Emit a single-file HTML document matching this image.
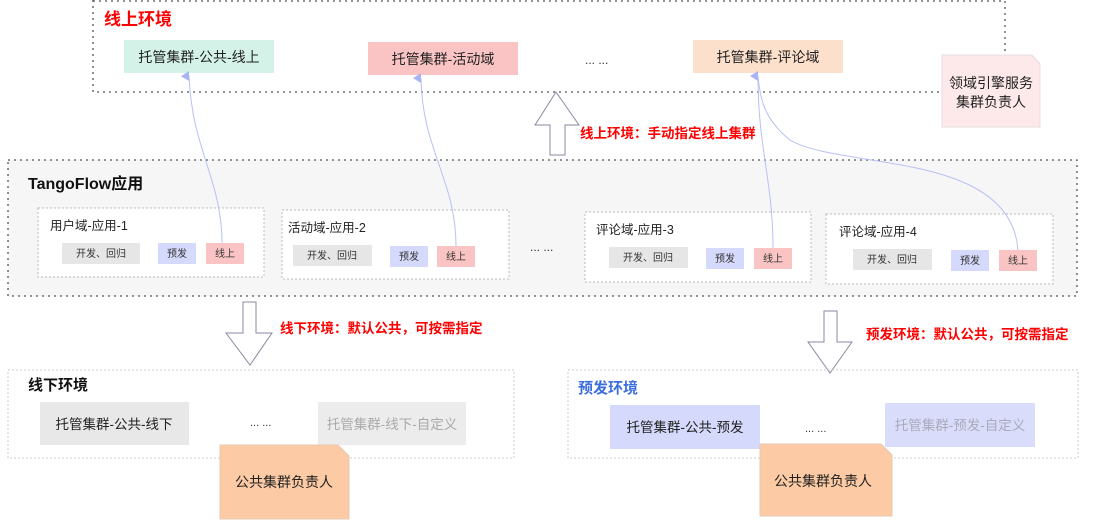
<!DOCTYPE html>
<html><head><meta charset="utf-8"><style>
html,body{margin:0;padding:0;background:#fff;}
svg{display:block;font-family:"Liberation Sans","Noto Sans CJK SC",sans-serif;}
</style></head><body>
<svg width="1098" height="521" viewBox="0 0 1098 521" xmlns="http://www.w3.org/2000/svg">
<defs>
<marker id="ah" markerWidth="10" markerHeight="10" refX="5" refY="8" orient="auto-start-reverse" markerUnits="userSpaceOnUse"><path d="M0,8 L5,0 L10,8 Z" fill="#aab4f5"/></marker>
</defs>
<path d="M93,0 V92 H940" fill="none" stroke="#555" stroke-width="1.3" stroke-dasharray="2,4"/>
<path d="M93,1 H1005 V55" fill="none" stroke="#555" stroke-width="1.3" stroke-dasharray="2,4"/>
<text x="104" y="25" font-size="17" font-weight="bold" fill="#ff0000">线上环境</text>
<rect x="124" y="40" width="150" height="33" fill="#d4f2e8"/>
<text x="199" y="62" font-size="14" text-anchor="middle" fill="#222">托管集群-公共-线上</text>
<rect x="368" y="42" width="150" height="33" fill="#fbc4c4"/>
<text x="443" y="64" font-size="14" text-anchor="middle" fill="#222">托管集群-活动域</text>
<text x="585" y="64" font-size="12" fill="#333">... ...</text>
<rect x="693" y="40" width="150" height="33" fill="#fde0cc"/>
<text x="768" y="62" font-size="14" text-anchor="middle" fill="#222">托管集群-评论域</text>
<path d="M942,55 H1032 L1040,64 V127 H942 Z" fill="#fde9ea" stroke="#e6dede"/>
<text x="991" y="88" font-size="14" text-anchor="middle" fill="#222">领域引擎服务</text>
<text x="991" y="107" font-size="14" text-anchor="middle" fill="#222">集群负责人</text>
<path d="M556,92 L579,125 L565,125 L565,155 L550,155 L550,125 L535,125 Z" fill="#fff" stroke="#8a8aa0" stroke-width="1"/>
<text x="580" y="138" font-size="13.5" font-weight="bold" fill="#ff0000">线上环境：手动指定线上集群</text>
<rect x="8" y="160" width="1069" height="136" fill="#f6f6f6" stroke="#555" stroke-width="1.3" stroke-dasharray="2,4"/>
<text x="28" y="189" font-size="16" font-weight="bold" fill="#111">TangoFlow应用</text>
<g font-size="12.5" fill="#222">
<rect x="38" y="208" width="226" height="69" fill="#fff" stroke="#bbb" stroke-dasharray="2,2"/>
<text x="50" y="230">用户域-应用-1</text>
<rect x="282" y="210" width="227" height="69" fill="#fff" stroke="#bbb" stroke-dasharray="2,2"/>
<text x="288" y="232">活动域-应用-2</text>
<rect x="585" y="212" width="226" height="70" fill="#fff" stroke="#bbb" stroke-dasharray="2,2"/>
<text x="596" y="234">评论域-应用-3</text>
<rect x="826" y="214" width="227" height="70" fill="#fff" stroke="#bbb" stroke-dasharray="2,2"/>
<text x="839" y="236">评论域-应用-4</text>
</g>
<g font-size="10" text-anchor="middle" fill="#333">
<rect x="62" y="243" width="78" height="21" fill="#e6e6e6"/><text x="101" y="257">开发、回归</text>
<rect x="158" y="243" width="38" height="21" fill="#d5d9fb"/><text x="177" y="257">预发</text>
<rect x="206" y="243" width="38" height="21" fill="#fbc4c4"/><text x="225" y="257">线上</text>
<rect x="293" y="245" width="79" height="21" fill="#e6e6e6"/><text x="332" y="259">开发、回归</text>
<rect x="390" y="246" width="38" height="21" fill="#d5d9fb"/><text x="409" y="260">预发</text>
<rect x="437" y="246" width="38" height="21" fill="#fbc4c4"/><text x="456" y="260">线上</text>
<rect x="609" y="247" width="79" height="21" fill="#e6e6e6"/><text x="648" y="261">开发、回归</text>
<rect x="706" y="248" width="38" height="21" fill="#d5d9fb"/><text x="725" y="262">预发</text>
<rect x="754" y="248" width="38" height="21" fill="#fbc4c4"/><text x="773" y="262">线上</text>
<rect x="853" y="249" width="79" height="21" fill="#e6e6e6"/><text x="892" y="263">开发、回归</text>
<rect x="951" y="250" width="38" height="21" fill="#d5d9fb"/><text x="970" y="264">预发</text>
<rect x="999" y="250" width="38" height="21" fill="#fbc4c4"/><text x="1018" y="264">线上</text>
</g>
<text x="530" y="251" font-size="12" fill="#333">... ...</text>
<g fill="none" stroke="#b8c0f5" stroke-width="1">
<path d="M222,243 C222,180 192,150 189,76" marker-end="url(#ah)"/>
<path d="M456,246 C456,180 422,150 421,78" marker-end="url(#ah)"/>
<path d="M773,248 C773,180 758,150 758,76" marker-end="url(#ah)"/>
<path d="M1018,250 C1010,150 840,170 790,140 C765,120 760,100 758,76"/>
</g>
<path d="M243,302 H256 V333 H272 L250,365 L226,333 H243 Z" fill="#fff" stroke="#8a8aa0"/>
<text x="280" y="333" font-size="13.5" font-weight="bold" fill="#ff0000">线下环境：默认公共，可按需指定</text>
<path d="M824,311 H837 V342 H852 L830,373 L808,342 H824 Z" fill="#fff" stroke="#8a8aa0"/>
<text x="866" y="339" font-size="13.5" font-weight="bold" fill="#ff0000">预发环境：默认公共，可按需指定</text>
<rect x="8" y="370" width="506" height="88" fill="none" stroke="#ccc" stroke-dasharray="2,2"/>
<text x="28" y="390" font-size="15" font-weight="bold" fill="#111">线下环境</text>
<rect x="40" y="402" width="149" height="43" fill="#e8e8e8"/>
<text x="114" y="429" font-size="13.5" text-anchor="middle" fill="#222">托管集群-公共-线下</text>
<text x="250" y="426" font-size="11" fill="#333">... ...</text>
<rect x="318" y="402" width="148" height="43" fill="#ececec"/>
<text x="392" y="429" font-size="13.5" text-anchor="middle" fill="#aaa">托管集群-线下-自定义</text>
<path d="M220,445 H338 L349,456 V519 H220 Z" fill="#fccaa4" stroke="#e8c8b0"/>
<text x="284" y="487" font-size="14" text-anchor="middle" fill="#222">公共集群负责人</text>
<rect x="568" y="370" width="510" height="88" fill="none" stroke="#ccc" stroke-dasharray="2,2"/>
<text x="578" y="393" font-size="15" font-weight="bold" fill="#3d6ee0">预发环境</text>
<rect x="610" y="405" width="150" height="44" fill="#d5d9fb"/>
<text x="685" y="432" font-size="13.5" text-anchor="middle" fill="#222">托管集群-公共-预发</text>
<text x="805" y="432" font-size="11" fill="#333">... ...</text>
<rect x="885" y="403" width="150" height="44" fill="#d9ddfb"/>
<text x="960" y="430" font-size="13.5" text-anchor="middle" fill="#aab">托管集群-预发-自定义</text>
<path d="M760,444 H881 L892,455 V516 H760 Z" fill="#fccaa4" stroke="#e8c8b0"/>
<text x="823" y="486" font-size="14" text-anchor="middle" fill="#222">公共集群负责人</text>
</svg>
</body></html>
